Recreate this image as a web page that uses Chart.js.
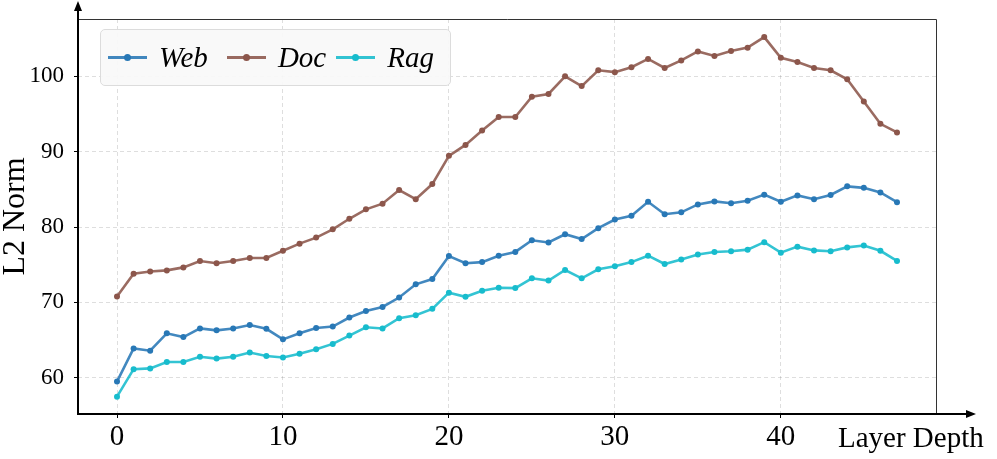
<!DOCTYPE html>
<html>
<head>
<meta charset="utf-8">
<script src="https://cdn.jsdelivr.net/npm/chart.js@4.4.1/dist/chart.umd.min.js"></script>
<style>
  html, body { margin: 0; padding: 0; background: #fff; }
  .wrap { position: relative; width: 997px; height: 459px; }
  .legend {
    position: absolute; left: 100px; top: 29px; width: 351px; height: 57px;
    border: 1.5px solid #dcdcdc; border-radius: 5px; background: rgba(249,249,249,0.92);
    display: flex; align-items: center; padding-left: 7px; box-sizing: border-box;
    font-family: 'Liberation Serif', 'Times New Roman', serif; font-style: italic; font-size: 29px; color: #000;
  }
  .legend-item { display: flex; align-items: center; }
  .legend-mark { position: relative; width: 39px; height: 3px; margin-right: 12px; }
  .legend-dot { position: absolute; left: 16px; top: -2px; width: 7px; height: 7px; border-radius: 50%; }
</style>
</head>
<body>
<div class="wrap">
  <canvas id="l2-chart" width="997" height="459"></canvas>
  <div class="legend" id="l2-legend"></div>
</div>
<script>
const layers = [0, 1, 2, 3, 4, 5, 6, 7, 8, 9, 10, 11, 12, 13, 14, 15, 16, 17, 18, 19, 20, 21, 22, 23,
  24, 25, 26, 27, 28, 29, 30, 31, 32, 33, 34, 35, 36, 37, 38, 39, 40, 41, 42, 43, 44, 45, 46, 47]

const webNorm = [59.5, 63.9, 63.6, 65.9, 65.4, 66.55, 66.3, 66.55, 67.0, 66.5, 65.1, 65.9, 66.6, 66.8, 68.0, 68.85,
  69.4, 70.65, 72.4, 73.1, 76.15, 75.2, 75.35, 76.2, 76.7, 78.25, 77.95, 79.05, 78.4, 79.85, 81.0, 81.5,
  83.35, 81.7, 81.95, 83.0, 83.4, 83.15, 83.5, 84.3, 83.35, 84.2, 83.7, 84.25, 85.4, 85.2, 84.6, 83.3]

const docNorm = [70.8, 73.8, 74.1, 74.25, 74.65, 75.5, 75.2, 75.5, 75.9, 75.9, 76.85, 77.8, 78.6, 79.7, 81.1, 82.35,
  83.1, 84.9, 83.7, 85.7, 89.45, 90.9, 92.8, 94.6, 94.6, 97.3, 97.65, 100.0, 98.7, 100.8, 100.55, 101.2,
  102.3, 101.1, 102.1, 103.3, 102.7, 103.35, 103.8, 105.2, 102.45, 101.9, 101.1, 100.8, 99.6, 96.65, 93.7, 92.55]

const ragNorm = [57.5, 61.15, 61.25, 62.1, 62.1, 62.8, 62.55, 62.8, 63.35, 62.9, 62.7, 63.2, 63.8, 64.5, 65.6, 66.7,
  66.55, 67.9, 68.3, 69.15, 71.3, 70.75, 71.55, 71.95, 71.9, 73.2, 72.9, 74.3, 73.2, 74.4, 74.8, 75.35,
  76.2, 75.1, 75.7, 76.35, 76.7, 76.8, 77.0, 78.0, 76.6, 77.4, 76.9, 76.8, 77.3, 77.55, 76.85, 75.5]

const seriesNames = ['Web', 'Doc', 'Rag']
const seriesColors = ['#2878b6', '#8c564b', '#17bccd']
const lineColors = ['rgba(40,120,182,0.88)', 'rgba(140,86,75,0.88)', 'rgba(23,188,205,0.88)']
const xTicks = [0, 10, 20, 30, 40]
const yTicks = [60, 70, 80, 90, 100]

const SERIF = "'Liberation Serif', 'Times New Roman', serif"

function toPoints(values) {
  return values.map((v, i) => ({ x: layers[i], y: v }))
}

/* ---- spines with arrows, frame, x title ---- */
const axesPlugin = {
  id: 'axesArrows',
  afterDraw(chart) {
    const { ctx, chartArea: a } = chart
    ctx.save()
    // thin frame top/right
    ctx.strokeStyle = '#333'
    ctx.lineWidth = 1
    ctx.beginPath()
    ctx.moveTo(a.left, a.top + 0.5)
    ctx.lineTo(a.right + 0.5, a.top + 0.5)
    ctx.lineTo(a.right + 0.5, a.bottom)
    ctx.stroke()

    // heavy left + bottom spines
    ctx.strokeStyle = '#000'
    ctx.fillStyle = '#000'
    ctx.lineWidth = 2
    ctx.beginPath()
    ctx.moveTo(a.left, a.bottom)
    ctx.lineTo(a.left, 9)
    ctx.moveTo(a.left - 1, a.bottom)
    ctx.lineTo(a.right + 34, a.bottom)
    ctx.stroke()

    ctx.beginPath()
    ctx.moveTo(a.left, 1)
    ctx.lineTo(a.left - 4, 11)
    ctx.lineTo(a.left + 4, 11)
    ctx.closePath()
    ctx.fill()

    ctx.beginPath()
    ctx.moveTo(a.right + 40, a.bottom)
    ctx.lineTo(a.right + 30, a.bottom - 4)
    ctx.lineTo(a.right + 30, a.bottom + 4)
    ctx.closePath()
    ctx.fill()

    ctx.font = `29px ${SERIF}`
    ctx.textAlign = 'left'
    ctx.textBaseline = 'alphabetic'
    ctx.fillText('Layer Depth', 838, 447)
    ctx.restore()
  }
}

const chart = new Chart(document.getElementById('l2-chart'), {
  type: 'line',
  data: {
    datasets: [webNorm, docNorm, ragNorm].map((vals, i) => ({
      label: seriesNames[i],
      data: toPoints(vals),
      borderColor: lineColors[i],
      backgroundColor: seriesColors[i],
      borderWidth: 2.6,
      pointRadius: 3,
      pointBorderWidth: 0,
      pointBackgroundColor: seriesColors[i],
      tension: 0,
    }))
  },
  options: {
    responsive: false,
    devicePixelRatio: 1,
    animation: false,
    layout: { padding: { top: 19, right: 61, left: 0, bottom: 0 } },
    plugins: {
      legend: { display: false },
      tooltip: { enabled: false },
    },
    scales: {
      x: {
        type: 'linear',
        min: -2.35,
        max: 49.35,
        afterBuildTicks: (scale) => { scale.ticks = xTicks.map(v => ({ value: v })) },
        afterFit: (scale) => {
          scale.height = 45
          scale.paddingLeft = 0
          scale.paddingRight = 0
        },
        grid: { color: 'rgba(0,0,0,0.13)', lineWidth: 1, tickLength: 4, tickColor: '#000', tickWidth: 1 },
        border: { display: false, dash: [4, 3] },
        ticks: {
          color: '#000',
          padding: 2,
          maxRotation: 0,
          font: { family: SERIF, size: 29 },
          callback: (v) => String(v),
        }
      },
      y: {
        min: 55.2,
        max: 107.6,
        afterBuildTicks: (scale) => { scale.ticks = yTicks.map(v => ({ value: v })) },
        afterFit: (scale) => {
          scale.width = 78
          scale.paddingTop = 0
          scale.paddingBottom = 0
        },
        grid: { color: 'rgba(0,0,0,0.13)', lineWidth: 1, tickLength: 4, tickColor: '#000', tickWidth: 1 },
        border: { display: false, dash: [4, 3] },
        title: {
          display: true,
          text: 'L2 Norm',
          color: '#000',
          padding: { top: 0, bottom: 0 },
          font: { family: SERIF, size: 32, lineHeight: 1 },
        },
        ticks: {
          color: '#000',
          padding: 10,
          font: { family: SERIF, size: 23 },
          callback: (v) => String(v),
        }
      }
    }
  },
  plugins: [axesPlugin]
})

// Build legend
const legend = document.getElementById('l2-legend')
legend.innerHTML = seriesNames.map((name, i) => `
  <div class="legend-item" style="margin-right:${i === 0 ? 19 : 10}px">
    <span class="legend-mark" style="background:${lineColors[i]}">
      <span class="legend-dot" style="background:${seriesColors[i]}"></span>
    </span>
    <span>${name}</span>
  </div>
`).join('')
</script>
</body>
</html>
